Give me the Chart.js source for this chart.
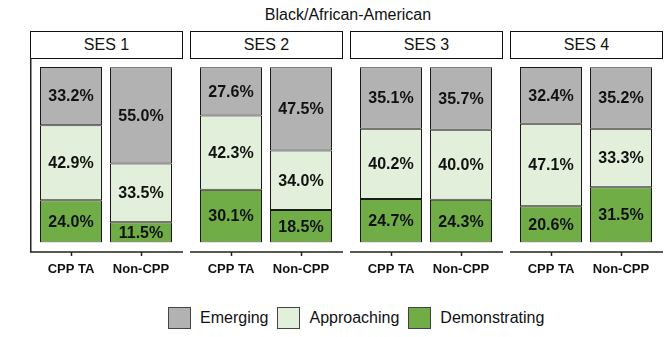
<!DOCTYPE html>
<html><head><meta charset="utf-8">
<script src="https://cdn.jsdelivr.net/npm/chart.js@4"></script>
<style>
body{margin:0;background:#fff;width:672px;height:337px;position:relative;overflow:hidden;font-family:"Liberation Sans",Arial,sans-serif;color:#111;}
#title{position:absolute;top:6px;left:0;width:696px;text-align:center;font-size:16px;line-height:18px;}
.hdr{position:absolute;top:31px;height:28px;width:153px;box-sizing:border-box;border:1.5px solid #111;text-align:center;font-size:16px;line-height:25px;background:#fff;}
.cv{position:absolute;top:58px;}
#legend{position:absolute;top:307px;left:168px;display:flex;align-items:center;font-size:16px;}
#legend .box{width:23px;height:22px;box-sizing:border-box;border:1px solid #444;margin-right:9px;}
#legend .lbl{margin-right:9px;}
</style></head><body>
<div id="title">Black/African-American</div>
<div id="panels"></div>
<div id="legend"></div>
<script>
const title = "Black/African-American";
const panels = ["SES 1", "SES 2", "SES 3", "SES 4"];
const groups = ["CPP TA", "Non-CPP"];
const seriesNames = ["Demonstrating", "Approaching", "Emerging"];
const seriesColors = ["#70ad47", "#e2efda", "#b2b2b2"];
// values per panel: [CPP TA, Non-CPP]
const demonstrating = [[24.0, 11.5], [30.1, 18.5], [24.7, 24.3], [20.6, 31.5]];
const approaching   = [[42.9, 33.5], [42.3, 34.0], [40.2, 40.0], [47.1, 33.3]];
const emerging      = [[33.2, 55.0], [27.6, 47.5], [35.1, 35.7], [32.4, 35.2]];
const seriesValues = [demonstrating, approaching, emerging];

const panelLefts = [30, 190, 350, 510];
const container = document.getElementById('panels');

const labelPlugin = {
  id: 'segLabels',
  afterDatasetsDraw(chart) {
    const ctx = chart.ctx;
    ctx.save();
    ctx.font = 'bold 16px "Liberation Sans", Arial, sans-serif';
    ctx.fillStyle = '#111';
    ctx.textAlign = 'center';
    ctx.textBaseline = 'middle';
    chart.data.datasets.forEach((ds, di) => {
      const meta = chart.getDatasetMeta(di);
      meta.data.forEach((el, i) => {
        const v = ds.data[i];
        ctx.fillText(v.toFixed(1) + '%', el.x, (el.y + el.base) / 2 + 1);
      });
    });
    ctx.restore();
  }
};
const framePlugin = {
  id: 'frame',
  afterDraw(chart, args, opts) {
    const ctx = chart.ctx;
    const a = chart.chartArea;
    const y = a.bottom + 9.5;
    ctx.save();
    ctx.strokeStyle = '#222';
    ctx.lineWidth = 1.5;
    ctx.beginPath();
    ctx.moveTo(0, y); ctx.lineTo(chart.width, y);
    const xs = chart.scales.x;
    xs.ticks.forEach((t, i) => {
      const x = Math.round(xs.getPixelForTick(i)) + 0.5;
      ctx.moveTo(x, y); ctx.lineTo(x, y + 4);
    });
    if (opts.leftLine) { ctx.moveTo(0.75, 0); ctx.lineTo(0.75, y); }
    ctx.stroke();
    ctx.restore();
  }
};

panels.forEach((name, p) => {
  const h = document.createElement('div');
  h.className = 'hdr';
  h.style.left = panelLefts[p] + 'px';
  h.textContent = name;
  container.appendChild(h);
  const c = document.createElement('canvas');
  c.className = 'cv';
  c.width = 153; c.height = 220;
  c.style.left = panelLefts[p] + 'px';
  c.style.width = '153px'; c.style.height = '220px';
  container.appendChild(c);
  new Chart(c, {
    type: 'bar',
    data: {
      labels: groups,
      datasets: seriesNames.map((s, k) => ({
        label: s,
        data: seriesValues[k][p],
        backgroundColor: seriesColors[k],
        borderColor: '#1a1a1a',
        borderWidth: 1,
        borderSkipped: false,
        barPercentage: 62 / 70,
        categoryPercentage: 1
      }))
    },
    options: {
      responsive: false,
      devicePixelRatio: 1,
      animation: false,
      layout: { padding: { top: 9, left: 6, right: 7, bottom: 0 } },
      plugins: { legend: { display: false }, tooltip: { enabled: false }, frame: { leftLine: p === 0 } },
      scales: {
        x: {
          stacked: true,
          grid: { display: false, drawTicks: true, tickLength: 18 },
          border: { display: false },
          ticks: { color: '#111', font: { family: '"Liberation Sans", Arial, sans-serif', size: 13, weight: 'bold' }, padding: 1 }
        },
        y: { stacked: true, display: false, min: 0, max: 100.1 }
      }
    },
    plugins: [labelPlugin, framePlugin]
  });
});

const lg = document.getElementById('legend');
[2, 1, 0].forEach(k => {
  const b = document.createElement('div');
  b.className = 'box';
  b.style.background = seriesColors[k];
  lg.appendChild(b);
  const t = document.createElement('span');
  t.className = 'lbl';
  t.textContent = seriesNames[k];
  lg.appendChild(t);
});
</script>
</body></html>
